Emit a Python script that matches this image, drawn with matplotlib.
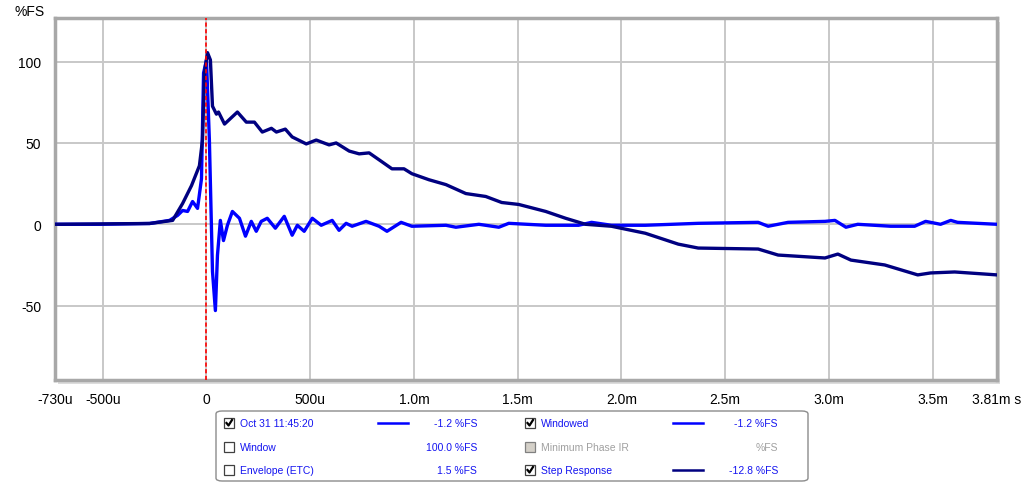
import matplotlib
matplotlib.use("Agg")
import matplotlib.pyplot as plt
from matplotlib.patches import Rectangle, FancyBboxPatch
from matplotlib.lines import Line2D

plt.rcParams['font.family'] = ['Liberation Sans', 'DejaVu Sans']
plt.rcParams['axes.unicode_minus'] = False

# ---- data (time in ms, value in %FS) ----
ir_t = [-0.731, -0.514, -0.274, -0.178, -0.139, -0.115, -0.091, -0.067, -0.043, -0.024,
        -0.014, 0.0, 0.014, 0.029, 0.043, 0.053, 0.067, 0.082, 0.101, 0.125,
        0.159, 0.188, 0.216, 0.240, 0.264, 0.293, 0.332, 0.375, 0.413, 0.438,
        0.471, 0.510, 0.553, 0.606, 0.639, 0.673, 0.702, 0.769, 0.832, 0.870,
        0.938, 0.990, 1.154, 1.202, 1.313, 1.409, 1.457, 1.635, 1.793, 1.856,
        1.952, 2.115, 2.370, 2.659, 2.707, 2.803, 2.981, 3.029, 3.082, 3.139,
        3.298, 3.413, 3.466, 3.538, 3.587, 3.620, 3.810]
ir_v = [0.0, 0.0, 0.5, 2.4, 5.5, 8.5, 7.9, 14.0, 9.8, 28.0,
        93.0, 101.0, 52.0, -29.0, -53.0, -19.0, 2.4, -10.0, -0.6, 7.9,
        3.7, -7.3, 1.8, -4.3, 1.8, 3.7, -2.4, 4.9, -6.7, -0.6,
        -4.3, 3.7, -0.6, 2.4, -3.7, 0.6, -1.2, 1.8, -1.2, -4.3,
        1.2, -1.2, -0.6, -1.8, 0.0, -1.8, 0.6, -0.6, -0.6, 1.2,
        -0.6, -0.6, 0.6, 1.2, -1.2, 1.2, 1.8, 2.4, -1.8, 0.0,
        -1.2, -1.2, 1.8, 0.0, 2.4, 1.2, 0.0]

step_t = [-0.731, -0.274, -0.163, -0.115, -0.072, -0.034, -0.019, -0.010, 0.005, 0.019,
          0.029, 0.048, 0.058, 0.087, 0.149, 0.192, 0.231, 0.269, 0.313, 0.337,
          0.380, 0.413, 0.481, 0.529, 0.591, 0.625, 0.688, 0.736, 0.784, 0.846,
          0.894, 0.952, 0.990, 1.072, 1.154, 1.250, 1.346, 1.423, 1.505, 1.635,
          1.731, 1.827, 1.952, 2.115, 2.274, 2.370, 2.659, 2.755, 2.981, 3.043,
          3.106, 3.269, 3.428, 3.490, 3.606, 3.810]
step_v = [0.0, 0.5, 2.4, 12.8, 23.8, 36.0, 52.0, 93.0, 105.5, 101.0,
          72.6, 67.7, 69.0, 61.6, 69.0, 62.8, 62.8, 56.7, 59.0, 56.7,
          58.5, 53.7, 49.4, 51.8, 48.8, 50.0, 45.0, 43.3, 43.9, 38.4,
          34.1, 34.1, 31.1, 27.4, 24.4, 18.9, 17.1, 13.4, 12.2, 7.9,
          3.7, 0.0, -1.2, -5.5, -12.2, -14.6, -15.2, -18.9, -20.7, -18.3,
          -22.0, -25.0, -31.1, -29.9, -29.3, -31.1]

x_ticks = [-0.73, -0.5, 0, 0.5, 1.0, 1.5, 2.0, 2.5, 3.0, 3.5, 3.81]
x_labels = ['-730u', '-500u', '0', '500u', '1.0m', '1.5m', '2.0m', '2.5m', '3.0m', '3.5m', '3.81m s']
y_ticks = [100, 50, 0, -50]
y_labels = ['100', '50', '0', '-50']

W, H = 1024, 485
fig = plt.figure(figsize=(W / 100, H / 100), dpi=100)

def fx(px):
    return px / W

def fy(py):
    return 1 - py / H

ax_l, ax_r, ax_t, ax_b = 55, 997, 19, 381
ax = fig.add_axes([fx(ax_l), fy(ax_b), fx(ax_r - ax_l), (ax_b - ax_t) / H])
ax.set_zorder(2)
ax.set_facecolor('white')

# soft shadow behind the frame
fig.patches.append(Rectangle((fx(ax_l + 3), fy(ax_b + 4)), fx(ax_r - ax_l), (ax_b - ax_t) / H,
                             transform=fig.transFigure, facecolor='#dcdcdc', edgecolor='none', zorder=0))

ax.set_xlim(-0.73, 3.81)
ax.set_ylim(-95.7, 126.8)
ax.set_xticks(x_ticks)
ax.set_xticklabels(x_labels)
ax.set_yticks(y_ticks)
ax.set_yticklabels(y_labels)
ax.tick_params(length=0, labelsize=10)
ax.tick_params(axis='y', pad=10)
ax.tick_params(axis='x', pad=9)
ax.grid(True, color='#c8c8c8', linewidth=1.4)
ax.set_axisbelow(True)
for sp in ax.spines.values():
    sp.set_color('#a8a8a8')
    sp.set_linewidth(2.5)

ax.plot(ir_t, ir_v, color='#0000ff', linewidth=2.4, zorder=3,
        solid_joinstyle='round', solid_capstyle='round')
ax.plot(step_t, step_v, color='#000080', linewidth=2.4, zorder=4,
        solid_joinstyle='round', solid_capstyle='round')
ax.axvline(0, color='#ff0000', linestyle=(0, (2.5, 1.5)), linewidth=1.2, zorder=5)

fig.text(fx(30), fy(12), '%FS', fontsize=10, ha='center', va='center')

# ---- legend box ----
fig.patches.append(FancyBboxPatch((fx(216), fy(482)), fx(808 - 216), (482 - 412) / H,
                                  boxstyle='round,pad=0,rounding_size=0.006',
                                  transform=fig.transFigure, facecolor='white',
                                  edgecolor='#8c8c8c', linewidth=1.0))

blue_txt = '#1414f0'
gray_txt = '#a0a0a0'

def checkbox(x, y, checked, disabled=False):
    fig.patches.append(Rectangle((fx(x), fy(y + 5)), fx(10), 10 / H, transform=fig.transFigure,
                                 facecolor='#d4d0c8' if disabled else 'white',
                                 edgecolor='#808080' if disabled else '#404040', linewidth=0.9))
    if checked:
        fig.lines.append(Line2D([fx(x + 2.5), fx(x + 4.5), fx(x + 8)],
                                [fy(y), fy(y + 2.5), fy(y - 3)], transform=fig.transFigure,
                                color='black', linewidth=1.6))

rows = [
    (424, 'Oct 31 11:45:20', True, False, '#0000ff', '-1.2 %FS',
     'Windowed', True, False, '#0000ff', '-1.2 %FS'),
    (448, 'Window', False, False, None, '100.0 %FS',
     'Minimum Phase IR', False, True, None, '%FS'),
    (471, 'Envelope (ETC)', False, False, None, '1.5 %FS',
     'Step Response', True, False, '#000080', '-12.8 %FS'),
]
for y, n1, c1, d1, l1, v1, n2, c2, d2, l2, v2 in rows:
    checkbox(224, y, c1, d1)
    fig.text(fx(240), fy(y), n1, fontsize=7.5, color=blue_txt, va='center')
    if l1:
        fig.lines.append(Line2D([fx(378), fx(408)], [fy(y), fy(y)], transform=fig.transFigure,
                                color=l1, linewidth=1.8))
    fig.text(fx(477), fy(y), v1, fontsize=7.5, color=blue_txt, va='center', ha='right')
    checkbox(525, y, c2, d2)
    fig.text(fx(541), fy(y), n2, fontsize=7.5, color=gray_txt if d2 else blue_txt, va='center')
    if l2:
        fig.lines.append(Line2D([fx(673), fx(703)], [fy(y), fy(y)], transform=fig.transFigure,
                                color=l2, linewidth=1.8))
    fig.text(fx(778), fy(y), v2, fontsize=7.5, color=gray_txt if d2 else blue_txt, va='center', ha='right')

fig.savefig('out.png', dpi=100)
